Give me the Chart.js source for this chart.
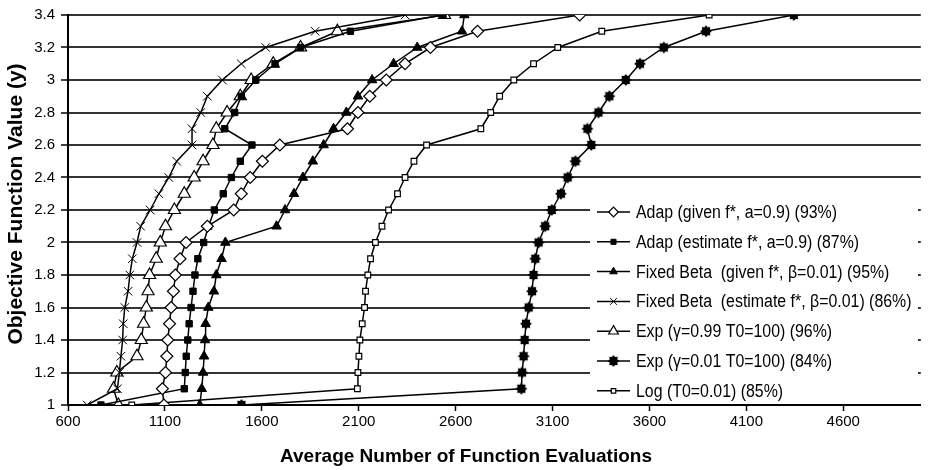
<!DOCTYPE html>
<html>
<head>
<meta charset="utf-8">
<script src="https://cdn.jsdelivr.net/npm/chart.js@4.4.1/dist/chart.umd.min.js"></script>
<style>
  html, body { margin: 0; padding: 0; background: #fff; }
</style>
</head>
<body>
<canvas id="myChart" width="929" height="470"></canvas>
<script>
// y levels shared by every series (1.0 .. 3.4)
const yLevels = [1.0, 1.1, 1.2, 1.3, 1.4, 1.5, 1.6, 1.7, 1.8, 1.9, 2.0, 2.1, 2.2,
                 2.3, 2.4, 2.5, 2.6, 2.7, 2.8, 2.9, 3.0, 3.1, 3.2, 3.3, 3.4];

// average number of evaluations at each y level
const adapGiven  = [1095, 1087, 1103, 1110, 1115, 1124, 1132, 1144, 1154, 1178, 1209, 1319, 1455,
                    1494, 1540, 1603, 1693, 2042, 2096, 2157, 2242, 2339, 2470, 2713, 3240];
const adapEst    = [770, 1200, 1205, 1210, 1218, 1225, 1235, 1245, 1255, 1270, 1300, 1325, 1355,
                    1401, 1443, 1489, 1549, 1409, 1460, 1494, 1569, 1668, 1800, 2057, 2535];
const fixedGiven = [1280, 1290, 1297, 1302, 1307, 1310, 1324, 1353, 1365, 1392, 1412, 1676, 1720,
                    1766, 1812, 1863, 1919, 1970, 2036, 2096, 2169, 2280, 2402, 2633, 2645];
const fixedEst   = [699, 855, 865, 873, 882, 885, 893, 910, 919, 932, 956, 975, 1024,
                    1069, 1120, 1161, 1240, 1240, 1285, 1319, 1396, 1494, 1620, 1875, 2339];
const expHigh    = [860, 835, 852, 956, 978, 990, 1004, 1013, 1021, 1055, 1076, 1103, 1149,
                    1200, 1251, 1297, 1348, 1365, 1421, 1489, 1545, 1659, 1800, 1990, 2543];
const expLow     = [1495, 2939, 2943, 2951, 2956, 2963, 2977, 2994, 3002, 3011, 3028, 3062, 3096,
                    3143, 3178, 3218, 3300, 3280, 3337, 3393, 3478, 3551, 3674, 3892, 4345];
const logSched   = [929, 2093, 2096, 2101, 2106, 2118, 2130, 2135, 2147, 2161, 2186, 2220, 2254,
                    2300, 2339, 2385, 2450, 2730, 2781, 2827, 2900, 3002, 3127, 3354, 3908];

const seriesNames = [
  'Adap (given f*, a=0.9) (93%)',
  'Adap (estimate f*, a=0.9) (87%)',
  'Fixed Beta  (given f*, \u03b2=0.01) (95%)',
  'Fixed Beta  (estimate f*, \u03b2=0.01) (86%)',
  'Exp (\u03b3=0.99 T0=100) (96%)',
  'Exp (\u03b3=0.01 T0=100) (84%)',
  'Log (T0=0.01) (85%)'
];

const xTicks = [600, 1100, 1600, 2100, 2600, 3100, 3600, 4100, 4600];
const yTicks = [1, 1.2, 1.4, 1.6, 1.8, 2, 2.2, 2.4, 2.6, 2.8, 3, 3.2, 3.4];

const sans = "'Liberation Sans', Arial, sans-serif";

// spiky blob used by the Exp (0.01) series
function starMarker(r) {
  const c = document.createElement('canvas');
  c.width = c.height = r * 2 + 2;
  const g = c.getContext('2d');
  g.beginPath();
  for (let i = 0; i < 16; i++) {
    const a = i * Math.PI / 8;
    const rr = i % 2 ? r * 0.7 : r;
    g.lineTo(r + 1 + rr * Math.cos(a), r + 1 + rr * Math.sin(a));
  }
  g.closePath();
  g.fillStyle = '#000';
  g.fill();
  return c;
}
const star = starMarker(6);

const toPoints = xs => yLevels.map((y, i) => ({ x: xs[i], y: y }));

const makeSet = (label, xs, style, radius, open) => ({
  label: label,
  data: toPoints(xs),
  borderColor: '#000',
  borderWidth: 1.5,
  pointStyle: style,
  pointRadius: radius,
  pointBorderColor: '#000',
  pointBackgroundColor: open ? '#fff' : '#000',
  pointBorderWidth: open ? 1.2 : 1,
  tension: 0,
  fill: false
});

const datasets = [
  makeSet(seriesNames[0], adapGiven, 'rectRot', 6, true),
  makeSet(seriesNames[1], adapEst, 'rect', 4.5, false),
  makeSet(seriesNames[2], fixedGiven, 'triangle', 5.5, false),
  makeSet(seriesNames[3], fixedEst, 'crossRot', 6, false),
  makeSet(seriesNames[4], expHigh, 'triangle', 7, true),
  makeSet(seriesNames[5], expLow, star, 6, false),
  makeSet(seriesNames[6], logSched, 'rect', 4, true)
];

// titles and the boxed legend on the right
const extras = {
  id: 'extras',
  afterDraw(chart) {
    const ctx = chart.ctx;
    ctx.save();
    ctx.fillStyle = '#000';
    ctx.textAlign = 'center';
    ctx.textBaseline = 'middle';
    ctx.font = 'bold 19px ' + sans;
    ctx.fillText('Average Number of Function Evaluations', 466, 457);
    ctx.save();
    ctx.translate(16, 204);
    ctx.rotate(-Math.PI / 2);
    ctx.font = 'bold 21px ' + sans;
    ctx.fillText('Objective Function Value (y)', 0, 0);
    ctx.restore();

    ctx.fillStyle = '#fff';
    ctx.fillRect(590, 197, 328, 205);
    ctx.font = '18px ' + sans;
    ctx.textAlign = 'left';
    // squeeze the text to look like the narrow face of the original
    const squeeze = 201 / ctx.measureText(seriesNames[0]).width;
    chart.data.datasets.forEach((ds, i) => {
      const y = 212 + i * 29.8;
      ctx.strokeStyle = '#000';
      ctx.lineWidth = 1.5;
      ctx.beginPath();
      ctx.moveTo(597, y);
      ctx.lineTo(630, y);
      ctx.stroke();
      ctx.fillStyle = ds.pointBackgroundColor;
      ctx.lineWidth = ds.pointBorderWidth;
      Chart.helpers.drawPoint(ctx, {
        pointStyle: ds.pointStyle,
        radius: ds.pointRadius * 0.8,
        rotation: 0,
        borderWidth: ds.pointBorderWidth
      }, 613.5, y);
      ctx.fillStyle = '#000';
      ctx.save();
      ctx.translate(636, y + 1);
      ctx.scale(squeeze, 1);
      ctx.fillText(ds.label, 0, 0);
      ctx.restore();
    });
    ctx.restore();
  }
};

const ctx = document.getElementById('myChart');

new Chart(ctx, {
  type: 'line',
  data: { datasets: datasets },
  plugins: [extras],
  options: {
    responsive: false,
    animation: false,
    devicePixelRatio: 1,
    layout: { padding: { top: 14, right: 0, left: 0, bottom: 0 } },
    plugins: {
      legend: { display: false },
      tooltip: { enabled: false }
    },
    scales: {
      x: {
        type: 'linear',
        min: 600,
        max: 5000,
        afterBuildTicks: s => { s.ticks = xTicks.map(v => ({ value: v })); },
        afterFit: s => { s.height = 65; },
        ticks: {
          color: '#000',
          padding: 2,
          font: { family: sans, size: 15 },
          maxRotation: 0,
          callback: v => String(v)
        },
        grid: { drawOnChartArea: false, tickLength: 6, tickColor: '#000', tickWidth: 1.5 },
        border: { color: '#000', width: 2 }
      },
      y: {
        min: 1,
        max: 3.4,
        afterBuildTicks: s => { s.ticks = yTicks.map(v => ({ value: v })); },
        afterFit: s => { s.width = 68; },
        ticks: {
          color: '#000',
          padding: 6,
          font: { family: sans, size: 15 },
          callback: v => String(Math.round(v * 10) / 10)
        },
        grid: { color: '#333', lineWidth: 2, tickLength: 7, tickColor: '#000', tickWidth: 1.5 },
        border: { color: '#000', width: 2 }
      }
    }
  }
});
</script>
</body>
</html>
